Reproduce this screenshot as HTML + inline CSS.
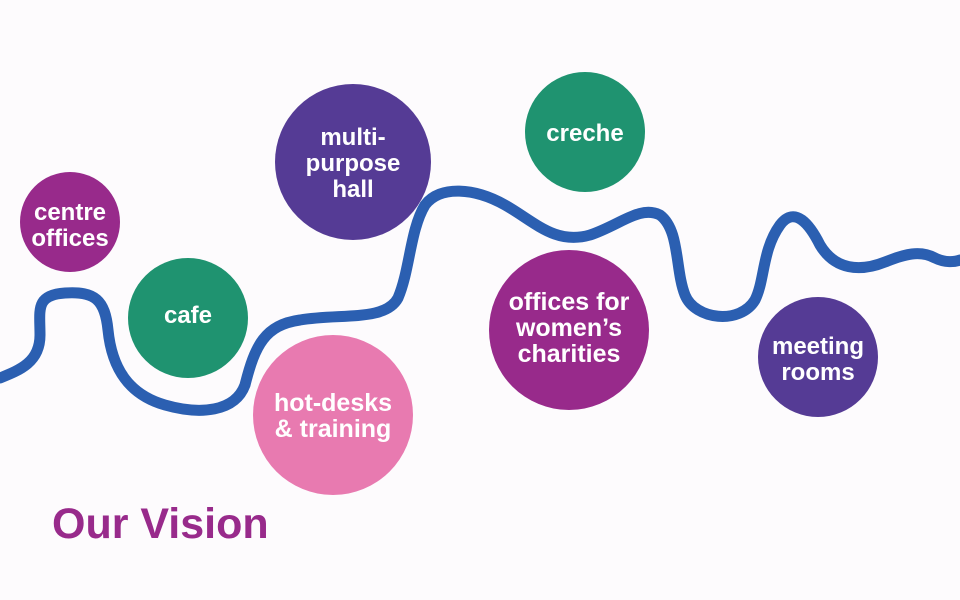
<!DOCTYPE html>
<html><head><meta charset="utf-8"><style>
html,body{margin:0;padding:0;background:#fdfbfd;}
svg{display:block}
text{font-family:"Liberation Sans",Arial,sans-serif;font-weight:bold;fill:#fff;text-anchor:middle}
</style></head><body>
<svg width="960" height="600" viewBox="0 0 960 600">
<rect width="960" height="600" fill="#fdfbfd"/>
<path d="M0,378 C20,370 40,362 40,335 C40,310 35,295 65,293 C95,291 105,300 108,330 C112,370 130,395 165,405 C200,415 235,412 245,385 C255,345 265,325 300,320 C340,313 385,322 398,298 C410,270 410,230 425,205 C440,185 475,188 505,205 C535,222 555,245 590,235 C620,225 640,205 660,215 C680,230 675,270 685,295 C695,320 740,325 755,300 C765,280 762,250 780,225 C795,205 810,225 820,245 C835,270 860,272 885,262 C905,254 920,250 935,258 C945,263 955,262 960,260" fill="none" stroke="#2b5fb1" stroke-width="11" stroke-linecap="round" stroke-linejoin="round"/>
<circle cx="70" cy="222" r="50" fill="#982a8b"/>
<text x="70" y="220" font-size="24">centre</text>
<text x="70" y="246" font-size="24">offices</text>
<circle cx="188" cy="318" r="60" fill="#1f9370"/>
<text x="188" y="323" font-size="24">cafe</text>
<circle cx="353" cy="162" r="78" fill="#553b95"/>
<text x="353" y="145" font-size="24">multi-</text>
<text x="353" y="171" font-size="24">purpose</text>
<text x="353" y="197" font-size="24">hall</text>
<circle cx="333" cy="415" r="80" fill="#e87ab0"/>
<text x="333" y="411" font-size="25">hot-desks</text>
<text x="333" y="437" font-size="25">&amp; training</text>
<circle cx="585" cy="132" r="60" fill="#1f9370"/>
<text x="585" y="141" font-size="24">creche</text>
<circle cx="569" cy="330" r="80" fill="#982a8b"/>
<text x="569" y="310" font-size="25">offices for</text>
<text x="569" y="336" font-size="25">women’s</text>
<text x="569" y="362" font-size="25">charities</text>
<circle cx="818" cy="357" r="60" fill="#553b95"/>
<text x="818" y="354" font-size="24">meeting</text>
<text x="818" y="380" font-size="24">rooms</text>
<text x="52" y="538" font-size="43" style="fill:#982a8b;text-anchor:start">Our Vision</text>
</svg>
</body></html>
